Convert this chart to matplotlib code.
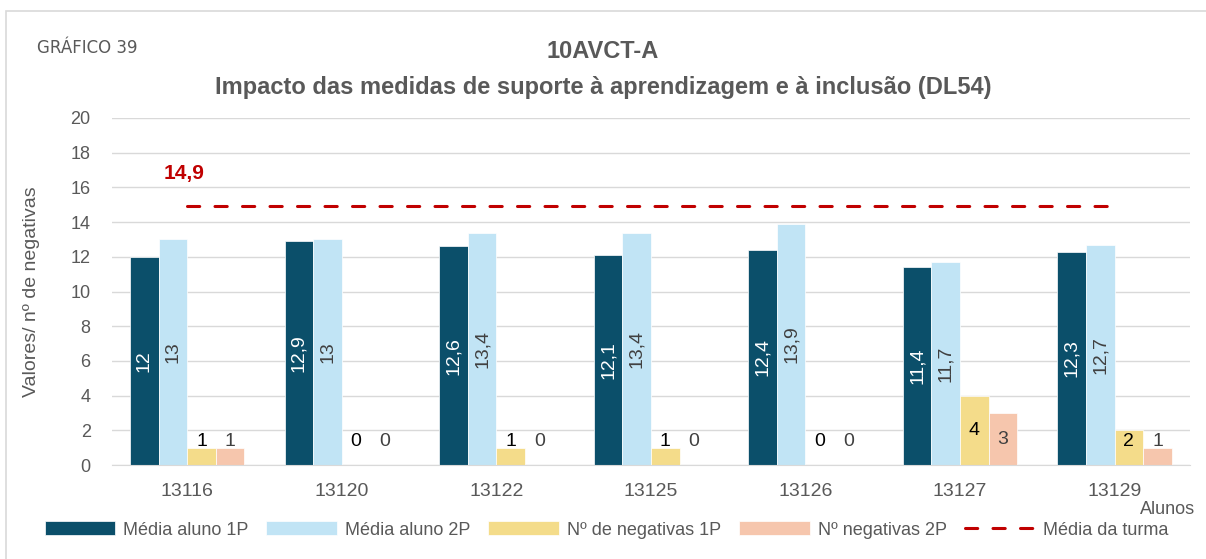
import numpy as np
import matplotlib
matplotlib.use("Agg")
import matplotlib.pyplot as plt
from matplotlib.patches import Rectangle

# dados
alunos = ["13116", "13120", "13122", "13125", "13126", "13127", "13129"]
media_1p = [12, 12.9, 12.6, 12.1, 12.4, 11.4, 12.3]
media_2p = [13, 13, 13.4, 13.4, 13.9, 11.7, 12.7]
neg_1p = [1, 0, 1, 1, 0, 4, 2]
neg_2p = [1, 0, 0, 0, 0, 3, 1]
media_turma = 14.9

cores = ["#0B4F6A", "#C1E4F5", "#F4DC8A", "#F6C6AD"]
cinza = "#595959"

plt.rcParams["font.family"] = ["Liberation Sans", "DejaVu Sans"]

fig = plt.figure(figsize=(12.06, 5.59), dpi=100)
ax = fig.add_axes([0.0925, 0.168, 0.8945, 0.621])

x = np.arange(len(alunos))
w = 0.185
offs = [-1.5 * w, -0.5 * w, 0.5 * w, 1.5 * w]
nomes = ["Média aluno 1P", "Média aluno 2P", "Nº de negativas 1P", "Nº negativas 2P"]
series = [media_1p, media_2p, neg_1p, neg_2p]

for s, off, cor, nome in zip(series, offs, cores, nomes):
    ax.bar(x + off, s, w, color=cor, label=nome, zorder=2, edgecolor="white", linewidth=0.5)

# rótulos
def fmt(v):
    return f"{v:g}".replace(".", ",")

for i in range(len(alunos)):
    ax.text(x[i] + offs[0], media_1p[i] / 2, fmt(media_1p[i]), rotation=90, ha="center",
            va="center", color="white", fontsize=14)
    ax.text(x[i] + offs[1], media_2p[i] / 2, fmt(media_2p[i]), rotation=90, ha="center",
            va="center", color="#404040", fontsize=14)
    ax.text(x[i] + offs[2], max(neg_1p[i] / 2, 1.35), fmt(neg_1p[i]), ha="center",
            va="center", color="black", fontsize=14)
    ax.text(x[i] + offs[3], max(neg_2p[i] / 2, 1.35), fmt(neg_2p[i]), ha="center",
            va="center", color="#404040", fontsize=14)

ax.plot([x[0], x[-1]], [media_turma, media_turma], color="#C00000", lw=2.2,
        ls=(0, (4, 5)), dash_capstyle="round", label="Média da turma", zorder=3)
ax.text(x[0] - 0.15, media_turma + 1.9, fmt(media_turma), color="#C00000",
        fontsize=15, fontweight="bold", va="center")

ax.set_xlim(-0.49, len(alunos) - 0.51)
ax.set_ylim(0, 20)
ax.set_yticks(range(0, 21, 2))
ax.set_xticks(x)
ax.set_xticklabels(alunos)
ax.tick_params(axis="y", length=0, labelsize=13, colors=cinza, pad=15)
ax.tick_params(axis="x", length=0, labelsize=14, colors=cinza, pad=13)
ax.grid(axis="y", color="#D9D9D9", lw=1, zorder=0)
for sp in ["top", "right", "left"]:
    ax.spines[sp].set_visible(False)
ax.spines["bottom"].set_color("#D9D9D9")

ax.set_ylabel("Valores/ nº de negativas", fontsize=14, color=cinza)
ax.yaxis.set_label_coords(-0.066, 0.5)
fig.text(0.991, 0.089, "Alunos", ha="right", va="center", fontsize=13, color=cinza)

fig.text(0.5, 0.907, "10AVCT-A", ha="center", va="center", fontsize=17,
         fontweight="bold", color=cinza)
fig.text(0.5, 0.843, "Impacto das medidas de suporte à aprendizagem e à inclusão (DL54)",
         ha="center", va="center", fontsize=17, fontweight="bold", color=cinza)
fig.text(0.031, 0.915, "GRÁFICO 39", ha="left", va="center", fontsize=12, color=cinza,
         family="DejaVu Sans")

h, l = ax.get_legend_handles_labels()
ordem = [l.index(n) for n in nomes + ["Média da turma"]]
fig.legend([h[k] for k in ordem], [l[k] for k in ordem], loc="center",
           bbox_to_anchor=(0.503, 0.052), ncol=5, frameon=False,
           fontsize=13, handlelength=3.9, handleheight=0.8, columnspacing=1.0,
           handletextpad=0.45, labelcolor=cinza)

fig.patches.append(Rectangle((0.005, -0.01), 1.1, 0.99, transform=fig.transFigure,
                             fill=False, edgecolor="#D9D9D9", lw=1.2))

fig.savefig("out.png", dpi=100)
